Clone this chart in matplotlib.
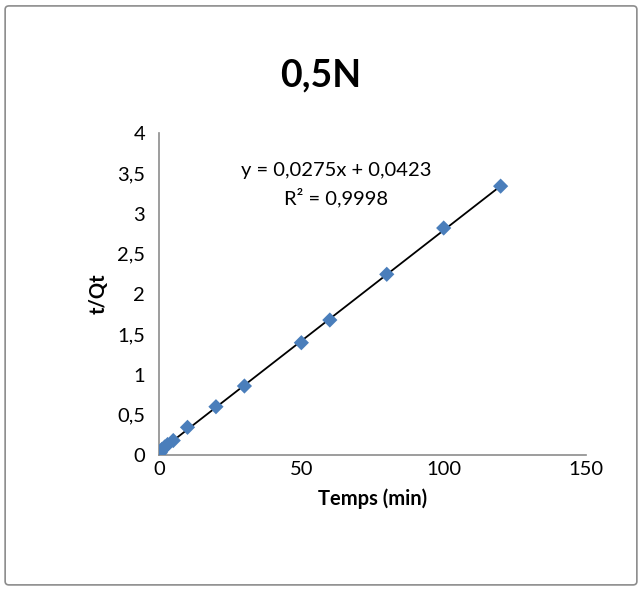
import matplotlib.pyplot as plt
from matplotlib.patches import FancyBboxPatch
from matplotlib.ticker import FuncFormatter

# données
temps = [0.5, 1, 2, 3, 5, 10, 20, 30, 50, 60, 80, 100, 120]
t_qt = [0.03, 0.07, 0.10, 0.13, 0.18, 0.344, 0.60, 0.857, 1.395, 1.677, 2.245, 2.82, 3.34]
pente = 0.0275
origine = 0.0423

plt.rcParams['font.family'] = ['Lato', 'DejaVu Sans']

fig = plt.figure(figsize=(6.42, 5.92), dpi=100)
fig.patches.append(FancyBboxPatch((0.008, 0.012), 0.984, 0.978, boxstyle="round,pad=0,rounding_size=0.006",
                                  transform=fig.transFigure, fill=False, edgecolor="#8c8c8c", linewidth=1.2))

ax = fig.add_axes([0.2477, 0.2314, 0.6651, 0.5439])

x_fit = [min(temps), max(temps)]
y_fit = [pente * v + origine for v in x_fit]
ax.plot(x_fit, y_fit, color="black", linewidth=1.3, zorder=2)
ax.scatter(temps, t_qt, marker="D", s=60, color="#4a7ebb", edgecolors="none", zorder=3)

ax.set_xlim(0, 150)
ax.set_ylim(0, 4)
ax.set_xticks([0, 50, 100, 150])
ax.set_yticks([0, 0.5, 1, 1.5, 2, 2.5, 3, 3.5, 4])
ax.yaxis.set_major_formatter(FuncFormatter(lambda v, p: ("%g" % v).replace(".", ",")))
ax.tick_params(axis="x", length=0, labelsize=14.5, pad=4)
ax.tick_params(axis="y", length=0, labelsize=14.5, pad=10)
for s in ["top", "right"]:
    ax.spines[s].set_visible(False)
for s in ["left", "bottom"]:
    ax.spines[s].set_color("#8c8c8c")
    ax.spines[s].set_linewidth(1.2)

ax.set_xlabel("Temps (min)", fontsize=14.5, fontweight="bold", labelpad=8)
ax.set_ylabel("t/Qt", fontsize=14.5, fontweight="bold", labelpad=6)
fig.text(0.5, 0.873, "0,5N", ha="center", va="center", fontsize=27, fontweight="bold")

ax.text(0.415, 0.885, "y = 0,0275x + 0,0423", transform=ax.transAxes, ha="center", va="center", fontsize=14.5)
ax.text(0.415, 0.80, "R² = 0,9998", transform=ax.transAxes, ha="center", va="center", fontsize=14.5)

plt.savefig("out.png", dpi=100)
